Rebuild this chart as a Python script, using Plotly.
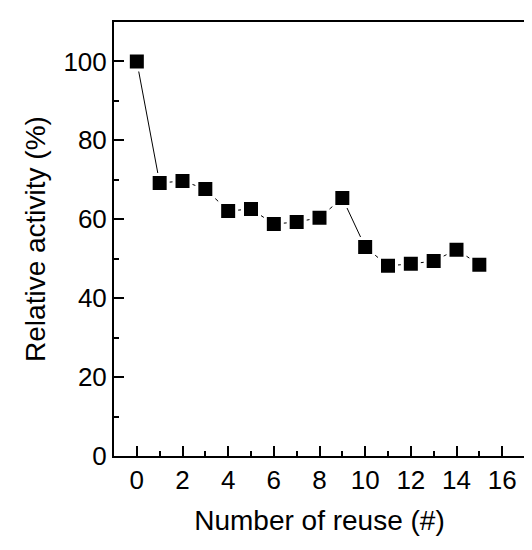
import plotly.graph_objects as go

reuse = list(range(16))
activity = [100, 69.2, 69.7, 67.7, 62.1, 62.6, 58.8, 59.3, 60.4, 65.4, 53.0, 48.2, 48.7, 49.4, 52.3, 48.5]

x_ticks = [0, 2, 4, 6, 8, 10, 12, 14, 16]
y_ticks = [0, 20, 40, 60, 80, 100]

font_family = "Liberation Sans, Arial, sans-serif"

fig = go.Figure()
fig.add_trace(go.Scatter(
    x=reuse, y=activity, mode="lines+markers",
    line=dict(color="black", width=1),
    marker=dict(symbol="square", size=17, color="black",
                line=dict(color="white", width=3)),
    showlegend=False,
))

axis_common = dict(
    showline=True, linecolor="black", linewidth=2, mirror=True,
    ticks="inside", ticklen=10, tickwidth=2, tickcolor="black",
    showgrid=False, zeroline=False,
    tickfont=dict(family=font_family, size=26, color="black"),
)

fig.update_layout(
    width=532, height=550,
    margin=dict(l=106, r=15, t=14, b=102),
    paper_bgcolor="white", plot_bgcolor="white",
    font=dict(family=font_family, color="black"),
    xaxis=dict(
        range=[-1, 17], tickvals=x_ticks,
        minor=dict(dtick=1, tick0=0, ticks="inside", ticklen=5, tickwidth=2, tickcolor="black"),
        title=dict(text="Number of reuse (#)", font=dict(size=28), standoff=16),
        **axis_common,
    ),
    yaxis=dict(
        range=[0, 110], tickvals=y_ticks,
        minor=dict(dtick=10, tick0=0, ticks="inside", ticklen=5, tickwidth=2, tickcolor="black"),
        title=dict(text="Relative activity (%)", font=dict(size=28), standoff=10),
        **axis_common,
    ),
)

fig.write_html("out.html")
